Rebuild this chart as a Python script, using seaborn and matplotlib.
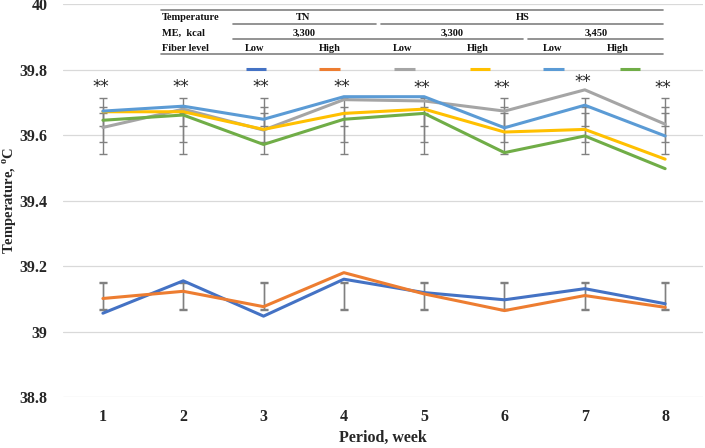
import matplotlib
matplotlib.use('Agg')
import matplotlib.pyplot as plt
import seaborn as sns
import pandas as pd
import numpy as np

# Datos
periodos = [1, 2, 3, 4, 5, 6, 7, 8]
tn_low = [39.056, 39.155, 39.047, 39.160, 39.119, 39.097, 39.131, 39.085]
tn_high = [39.101, 39.123, 39.076, 39.180, 39.115, 39.064, 39.110, 39.074]
hs_3300_low = [39.624, 39.680, 39.616, 39.709, 39.705, 39.674, 39.739, 39.634]
hs_3300_high = [39.672, 39.672, 39.618, 39.667, 39.680, 39.610, 39.618, 39.527]
hs_3450_low = [39.674, 39.689, 39.649, 39.718, 39.718, 39.623, 39.692, 39.598]
hs_3450_high = [39.646, 39.662, 39.572, 39.649, 39.667, 39.547, 39.598, 39.498]

# Barras de error (límite inferior, superior), iguales en todos los periodos
hs_err = [(39.627, 39.715), (39.581, 39.686), (39.543, 39.669)]
tn_err = [(39.070, 39.150), (39.067, 39.147)]

# Significancia
sig_txt = ['**'] * 8
sig_y = [39.748, 39.748, 39.748, 39.748, 39.746, 39.745, 39.762, 39.745]

series = {
    'TN 3300 Low': tn_low,
    'TN 3300 High': tn_high,
    'HS 3300 Low': hs_3300_low,
    'HS 3300 High': hs_3300_high,
    'HS 3450 Low': hs_3450_low,
    'HS 3450 High': hs_3450_high,
}
colores = {
    'TN 3300 Low': '#4472C4',
    'TN 3300 High': '#ED7D31',
    'HS 3300 Low': '#A5A5A5',
    'HS 3300 High': '#FFC000',
    'HS 3450 Low': '#5B9BD5',
    'HS 3450 High': '#70AD47',
}

df = pd.concat([pd.DataFrame({'Periodo': periodos, 'Temp': v, 'Grupo': k})
                for k, v in series.items()], ignore_index=True)

sns.set_style('white')
plt.rcParams['font.family'] = ['Liberation Serif', 'DejaVu Serif']

fig = plt.figure(figsize=(7.05, 4.48), dpi=100)
ax = fig.add_axes([0.089, 0.114, 0.908, 0.876])

# Barras de error
for lo, hi in hs_err + tn_err:
    centro = [(lo + hi) / 2] * len(periodos)
    ax.errorbar(periodos, centro, yerr=(hi - lo) / 2, fmt='none',
                ecolor='#808080', elinewidth=1, capsize=3, capthick=1, zorder=1)

sns.lineplot(data=df, x='Periodo', y='Temp', hue='Grupo', hue_order=list(series.keys()),
             palette=colores, linewidth=2.2, legend=False, ax=ax, zorder=3)

for x, y, t in zip(periodos, sig_y, sig_txt):
    ax.text(x - 0.03, y, t, ha='center', va='center', fontsize=12,
            family=['DejaVu Sans'], color='#222222')

ax.set_xlim(0.5, 8.47)
ax.set_ylim(38.8, 40.0)
ax.set_xticks(periodos)
ax.set_yticks([38.8, 39.0, 39.2, 39.4, 39.6, 39.8, 40.0])
ax.set_yticklabels(['38.8', '39', '39.2', '39.4', '39.6', '39.8', '40'])
ax.tick_params(axis='both', length=0, labelsize=11.5)
ax.tick_params(axis='y', pad=11)
ax.tick_params(axis='x', pad=9)
for lbl in ax.get_xticklabels() + ax.get_yticklabels():
    lbl.set_fontweight('bold')
ax.grid(True, axis='y', color='#d9d9d9', linewidth=0.9)
for s in ax.spines.values():
    s.set_visible(False)

ax.set_xlabel('Period, week', fontsize=11.5, fontweight='bold', labelpad=3)
ax.set_ylabel('Temperature, $^{\\mathregular{o}}$C', fontsize=10.5, fontweight='bold')
ax.yaxis.set_label_coords(-0.068, 0.50)

# Leyenda en forma de tabla
tr = ax.transAxes
kw = dict(transform=tr, fontsize=7.5, fontweight='bold', va='center', color='#111111')
ax.text(0.155, 0.968, 'Temperature', ha='left', **kw)
ax.text(0.155, 0.927, 'ME,  kcal', ha='left', **kw)
ax.text(0.155, 0.889, 'Fiber level', ha='left', **kw)
ax.text(0.375, 0.968, 'TN', ha='center', **kw)
ax.text(0.719, 0.968, 'HS', ha='center', **kw)
for xx, t in zip([0.377, 0.608, 0.834], ['3,300', '3,300', '3,450']):
    ax.text(xx, 0.927, t, ha='center', **kw)
for xx, t in zip([0.300, 0.417, 0.531, 0.648, 0.766, 0.867],
                 ['Low', 'High', 'Low', 'High', 'Low', 'High']):
    ax.text(xx, 0.889, t, ha='center', **kw)

reglas = [(0.986, 0.153, 0.9375), (0.950, 0.266, 0.489), (0.950, 0.497, 0.9375),
          (0.912, 0.266, 0.719), (0.912, 0.727, 0.9375), (0.874, 0.153, 0.9375)]
for yy, x0, x1 in reglas:
    ax.plot([x0, x1], [yy, yy], transform=tr, color='#808080', lw=1.2, clip_on=False)

for xx, k in zip([0.302, 0.417, 0.534, 0.652, 0.767, 0.886], series.keys()):
    ax.plot([xx - 0.016, xx + 0.016], [0.836, 0.836], transform=tr,
            color=colores[k], lw=2.2, solid_capstyle='butt')

fig.savefig('out.png', dpi=100)
